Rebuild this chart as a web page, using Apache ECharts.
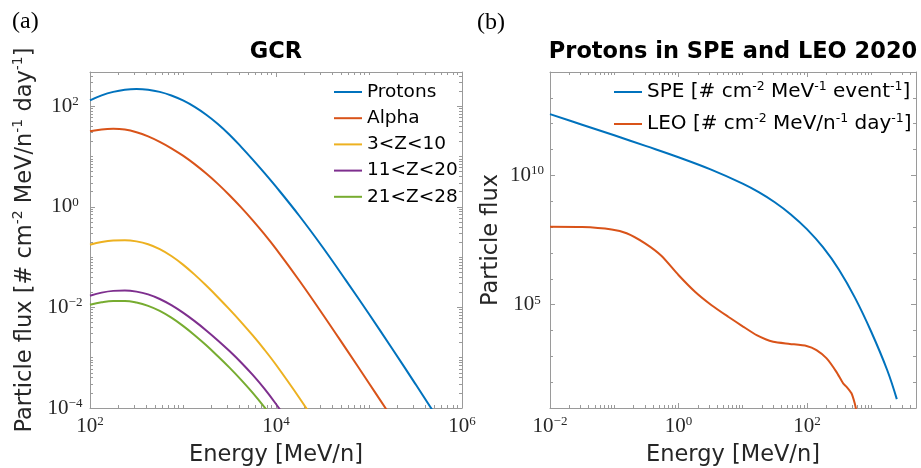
<!DOCTYPE html>
<html><head><meta charset="utf-8">
<script src="https://cdn.jsdelivr.net/npm/echarts@6/dist/echarts.min.js"></script>
<style>html,body{margin:0;padding:0;background:#fff}#c{width:921px;height:468px}</style>
</head><body><div id="c"></div>
<script>
// ---------- Panel (a): GCR, [energy MeV/n, flux] ----------
const gcrProtons = [[100,130.9],[133.4,164.4],[177.8,193.2],[237.1,213.3],[316.2,220.3],[421.7,213.3],[562.3,193.2],[749.9,164.1],[1000,130.6],[1334,97.3],[1778,67.9],[2371,44.4],[3162,27.2],[4217,15.6],[5623,8.71],[7499,4.74],[10000,2.52],[17780,0.665],[31620,0.159],[56230,0.0349],[100000,0.00738],[177800,0.00151],[316200,2.99e-4],[562300,5.79e-5]];
const gcrAlpha = [[100,31.7],[133.4,34.6],[177.8,35.6],[237.1,34.4],[316.2,30.5],[421.7,25.2],[562.3,19.6],[749.9,14.6],[1000,10.4],[1334,7.06],[1778,4.59],[2371,2.86],[3162,1.70],[4217,0.975],[5623,0.538],[7499,0.286],[10000,0.146],[17780,0.0343],[31620,0.00741],[56230,0.00153],[100000,3.11e-4],[177800,6.24e-5]];
const gcrZ3to10 = [[100,0.1766],[133.4,0.199],[177.8,0.2133],[237.1,0.2163],[316.2,0.2056],[421.7,0.1807],[562.3,0.1445],[749.9,0.1054],[1000,0.0710],[1334,0.0449],[1778,0.0272],[2371,0.01596],[3162,0.00914],[4217,0.00511],[5623,0.00277],[7499,0.00145],[10000,7.24e-4],[17780,1.6e-4],[31620,3.19e-5]];
const gcrZ11to20 = [[100,0.0171],[133.4,0.01968],[177.8,0.02133],[237.1,0.02168],[316.2,0.0206],[421.7,0.01816],[562.3,0.01472],[749.9,0.01109],[1000,0.00787],[1334,0.00533],[1778,0.00349],[2371,0.00221],[3162,0.00136],[4217,8.05e-4],[5623,4.54e-4],[7499,2.42e-4],[10000,1.2e-4],[13340,5.61e-5],[17780,2.49e-5]];
const gcrZ21to28 = [[100,0.01132],[133.4,0.0127],[177.8,0.01346],[237.1,0.01343],[316.2,0.01247],[421.7,0.01074],[562.3,0.00853],[749.9,0.00625],[1000,0.0043],[1334,0.00281],[1778,0.00177],[2371,0.00107],[3162,6.34e-4],[4217,3.63e-4],[5623,2.0e-4],[7499,1.04e-4],[10000,5.16e-5]];
const gcrNames = ['Protons','Alpha','3<Z<10','11<Z<20','21<Z<28'];
const gcrXRange = [1e2, 1e6];
const gcrYRange = [1e-4, 480];
const gcrXMajor = [1e2, 1e4, 1e6];
const gcrYMajor = [1e-4, 1e-2, 1e0, 1e2];

// ---------- Panel (b): Protons in SPE and LEO 2020 ----------
const speFlux = [[0.01,2.34e12],[0.0316,9.12e11],[0.1,3.55e11],[0.316,1.35e11],[1,5.01e10],[3.16,1.70e10],[10,4.79e9],[17.8,2.24e9],[31.6,9.12e8],[56.2,3.09e8],[100,8.32e7],[178,1.66e7],[316,2.24e6],[562,1.82e5],[1000,9120],[1778,295],[2512,22]];
const leoFlux = [[0.01,1.02e8],[0.0316,1.0e8],[0.0912,8.1e7],[0.156,5.75e7],[0.302,2.34e7],[0.547,7.6e6],[1,1.4e6],[1.81,3.16e5],[3.28,9.5e4],[5.96,3.4e4],[10,1.45e4],[16.5,6600],[29.9,3630],[54.3,3020],[98.9,2510],[141,1740],[203,832],[288,251],[367,90],[415,66],[495,37],[557,15],[589,7.9]];
const speLegend = {SPE: 'SPE [# cm{s|-2} MeV{s|-1} event{s|-1}]', LEO: 'LEO [# cm{s|-2} MeV/n{s|-1} day{s|-1}]'};
const speXRange = [1e-2, 5000];
const speYRange = [1e1, 1e14];
const speXMajor = [1e-2, 1e0, 1e2];
const speYMajor = [1e5, 1e10];

const COLORS = ['#0072BD','#D95319','#EDB120','#7E2F8E','#77AC30'];
const BOX = '#9a9a9a';
const TXT = '#262626';
const SANS = 'DejaVu Sans';
const SERIF = 'Liberation Serif';

function minorTicks(range, subs, majors) {
  const out = [];
  const e0 = Math.floor(Math.log10(range[0])), e1 = Math.ceil(Math.log10(range[1]));
  for (let e = e0; e <= e1; e++) {
    for (const k of subs) {
      const v = k * Math.pow(10, e);
      if (v < range[0] * 0.9999 || v > range[1] * 1.0001) continue;
      if (majors.some(m => Math.abs(m / v - 1) < 1e-6)) continue;
      out.push(v);
    }
  }
  return out;
}
const SUB_ALL = [1,2,3,4,5,6,7,8,9];

function supLabel(v) {
  const e = Math.round(Math.log10(v));
  return '{b|10}{s|' + (e < 0 ? '\u2212' + (-e) : e) + '}';
}
const TICK_RICH = {
  b: {fontFamily: SERIF, fontSize: 21, lineHeight: 22, color: TXT},
  s: {fontFamily: SERIF, fontSize: 13, lineHeight: 10, verticalAlign: 'top', color: TXT}
};
const NAME_STYLE = {
  fontFamily: SANS, fontSize: 22.5, color: TXT, lineHeight: 28,
  rich: {s: {fontFamily: SANS, fontSize: 14, lineHeight: 14, verticalAlign: 'top', color: TXT}}
};

function baseAxis(grid, range, pos) {
  return {type: 'log', logBase: 10, gridIndex: grid, min: range[0], max: range[1], position: pos,
    splitLine: {show: false}, axisLine: {show: false, onZero: false}, axisLabel: {show: false},
    axisTick: {show: false}, silent: true};
}
function tick(vals, len) {
  return {show: true, inside: true, length: len, customValues: vals, lineStyle: {color: BOX, width: 1}};
}
function line() { return {show: true, onZero: false, lineStyle: {color: BOX, width: 1}}; }

function makeX(grid, range, majors, minors, name, title) {
  return [
    Object.assign(baseAxis(grid, range, 'bottom'), {axisLine: line(), axisTick: tick(majors, 5),
      axisLabel: {show: true, customValues: majors, formatter: supLabel, margin: 7, rich: TICK_RICH},
      name: name, nameLocation: 'middle', nameGap: 33, nameTextStyle: NAME_STYLE}),
    Object.assign(baseAxis(grid, range, 'bottom'), {axisTick: tick(minors, 3)}),
    Object.assign(baseAxis(grid, range, 'top'), {axisLine: line(), axisTick: tick(majors, 5),
      name: title, nameLocation: 'middle', nameGap: 8,
      nameTextStyle: {fontFamily: SANS, fontWeight: 'bold', fontSize: 22.5, color: '#000'}}),
    Object.assign(baseAxis(grid, range, 'top'), {axisTick: tick(minors, 3)})
  ];
}
function makeY(grid, range, majors, minors, name, nameGap, labelMargin) {
  return [
    Object.assign(baseAxis(grid, range, 'left'), {axisLine: line(), axisTick: tick(majors, 5),
      axisLabel: {show: true, customValues: majors, formatter: supLabel, margin: labelMargin, align: 'center', rich: TICK_RICH},
      name: name, nameLocation: 'middle', nameGap: nameGap, nameTextStyle: NAME_STYLE}),
    Object.assign(baseAxis(grid, range, 'left'), {axisTick: tick(minors, 3)}),
    Object.assign(baseAxis(grid, range, 'right'), {axisLine: line(), axisTick: tick(majors, 5)}),
    Object.assign(baseAxis(grid, range, 'right'), {axisTick: tick(minors, 3)})
  ];
}

const xAxis = [].concat(
  makeX(0, gcrXRange, gcrXMajor, minorTicks(gcrXRange, SUB_ALL, gcrXMajor), 'Energy [MeV/n]', 'GCR'),
  makeX(1, speXRange, speXMajor, minorTicks(speXRange, SUB_ALL, speXMajor), 'Energy [MeV/n]', 'Protons in SPE and LEO 2020')
);
const yAxis = [].concat(
  makeY(0, gcrYRange, gcrYMajor, minorTicks(gcrYRange, SUB_ALL, gcrYMajor), 'Particle flux [# cm{s|-2} MeV/n{s|-1} day{s|-1}]', 51, 25),
  makeY(1, speYRange, speYMajor, minorTicks(speYRange, [1], speYMajor), 'Particle flux', 45, 23)
);

function lineSeries(name, data, color, axisIdx, smooth) {
  return {type: 'line', name: name, data: data, xAxisIndex: axisIdx, yAxisIndex: axisIdx,
    symbol: 'none', showSymbol: false, smooth: smooth, clip: true, silent: true,
    lineStyle: {width: 2, color: color}, itemStyle: {color: color}};
}
const gcrData = [gcrProtons, gcrAlpha, gcrZ3to10, gcrZ11to20, gcrZ21to28];
const series = gcrNames.map((n, i) => lineSeries(n, gcrData[i], COLORS[i], 0, 0.4))
  .concat([lineSeries('SPE', speFlux, COLORS[0], 4, 0.4), lineSeries('LEO', leoFlux, COLORS[1], 4, 0.2)]);

const chart = echarts.init(document.getElementById('c'), null, {renderer: 'canvas'});
chart.setOption({
  animation: false,
  backgroundColor: '#fff',
  grid: [
    {left: 90, top: 72, width: 372, height: 336, show: false, containLabel: false, outerBoundsMode: 'none'},
    {left: 550, top: 72, width: 366, height: 336, show: false, containLabel: false, outerBoundsMode: 'none'}
  ],
  xAxis: xAxis,
  yAxis: yAxis,
  legend: [
    {data: gcrNames, orient: 'vertical', left: 334, top: 82, itemWidth: 28, itemHeight: 2, icon: 'rect',
      itemGap: 6.2, padding: 0, selectedMode: false,
      textStyle: {fontFamily: SANS, fontSize: 18.5, lineHeight: 20, color: '#000'}},
    {data: ['SPE', 'LEO'], orient: 'vertical', left: 614, top: 80, itemWidth: 28, itemHeight: 2, icon: 'rect',
      itemGap: 8, padding: 0, selectedMode: false, formatter: n => speLegend[n],
      textStyle: {fontFamily: SANS, fontSize: 20, lineHeight: 24, color: '#000',
        rich: {s: {fontFamily: SANS, fontSize: 12.5, lineHeight: 12, verticalAlign: 'top', color: '#000'}}}}
  ],
  graphic: [
    {type: 'text', left: 12, top: 10, style: {text: '(a)', fontFamily: SERIF, fontSize: 24, fill: '#000'}},
    {type: 'text', left: 477, top: 11, style: {text: '(b)', fontFamily: SERIF, fontSize: 24, fill: '#000'}}
  ],
  series: series
});
</script></body></html>
